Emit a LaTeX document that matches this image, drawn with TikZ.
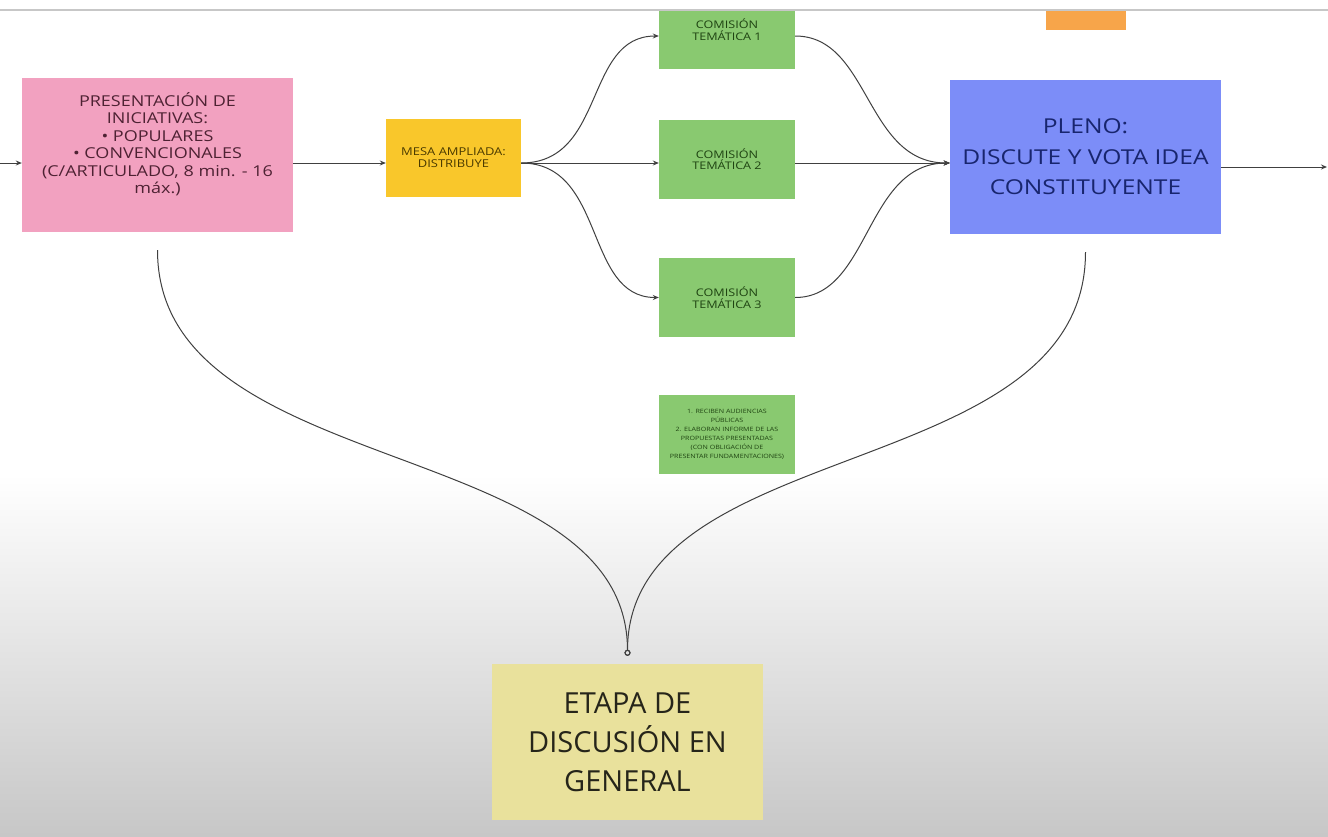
\documentclass[tikz,border=0pt]{standalone}
\usepackage{fontspec}
\setmainfont{Open Sans}
\newfontfamily\ancha{Open Sans}[FakeStretch=1.2]
\usetikzlibrary{arrows.meta}

\colorlet{pizarra linea}{black!22}
\definecolor{propuesta color}{HTML}{F2A1C0}
\definecolor{propuesta texto}{HTML}{4E2233}
\definecolor{mesa color}{HTML}{F9C72B}
\definecolor{mesa texto}{HTML}{4A3A00}
\definecolor{comision color}{HTML}{89C970}
\definecolor{comision texto}{HTML}{1F4412}
\definecolor{pleno color}{HTML}{7C8DF8}
\definecolor{pleno texto}{HTML}{18256E}
\definecolor{etapa color}{HTML}{E9E19C}
\definecolor{etapa texto}{HTML}{26251A}
\definecolor{nota color}{HTML}{F7A54A}

\tikzset{
    x={1pt},
    y={-1pt},
    caja/.style={
        fill={#1}, draw=none,
        align=center,
        inner sep=2pt,
    },
    propuesta/.style={
        caja={propuesta color},
        minimum width={271}, minimum height={154},
        font={\ancha\fontsize{15}{17.5}\selectfont\color{propuesta texto}},
    },
    mesa/.style={
        caja={mesa color},
        minimum width={135}, minimum height={78},
        font={\ancha\fontsize{10.8}{12}\selectfont\color{mesa texto}},
    },
    comision/.style={
        caja={comision color},
        minimum width={136}, minimum height={79},
        font={\ancha\fontsize{10.5}{11.5}\selectfont\color{comision texto}},
    },
    tareas/.style={
        caja={comision color},
        minimum width={136}, minimum height={79},
        font={\ancha\fontsize{5.9}{8.9}\selectfont\color{comision texto}},
    },
    pleno/.style={
        caja={pleno color},
        minimum width={271}, minimum height={154},
        font={\ancha\fontsize{20.5}{30.5}\selectfont\color{pleno texto}},
    },
    etapa/.style={
        caja={etapa color},
        minimum width={271}, minimum height={156},
        font={\fontsize{29}{39}\selectfont\color{etapa texto}},
    },
    flujo/.style={
        draw=black!75,
        line width={1pt},
        -{Stealth[length=6pt,width=5pt]},
    },
    cierre/.style={
        draw=black!75,
        line width={1pt},
        -{Circle[open,length=6pt,width=6pt]},
        shorten <={18pt},
        shorten >={8pt},
    },
}

\begin{document}
\begin{tikzpicture}
\useasboundingbox (0,0) rectangle (1328,836);
% background
\fill[white] (0,0) rectangle (1328,475);
\shade[top color=white, bottom color=black!22] (0,474) rectangle (1328,836);
\begin{scope}
\clip (0,11) rectangle (1328,836);
% boxes
\node[propuesta] (presentacion) at (157.5,155) {PRESENTACIÓN DE\\INICIATIVAS:\\• POPULARES\\• CONVENCIONALES\\(C/ARTICULADO, 8 min. - 16\\máx.)\\[6pt]};
\node[mesa] (mesa) at (453.5,158) {MESA AMPLIADA:\\DISTRIBUYE};
\node[comision] (comision1) at (727,29.5) {COMISIÓN\\TEMÁTICA 1};
\node[comision] (comision2) at (727,159) {COMISIÓN\\TEMÁTICA 2};
\node[comision] (comision3) at (727,297.5) {COMISIÓN\\TEMÁTICA 3};
\node[tareas] (tareas) at (727,434.5) {1. RECIBEN AUDIENCIAS\\PÚBLICAS\\2. ELABORAN INFORME DE LAS\\PROPUESTAS PRESENTADAS\\(CON OBLIGACIÓN DE\\PRESENTAR FUNDAMENTACIONES)};
\node[pleno] (pleno) at (1085.5,157) {PLENO:\\DISCUTE Y VOTA IDEA\\CONSTITUYENTE};
\node[caja={nota color}, minimum width={80}, minimum height={40}] (nota) at (1086,10) {};
\node[etapa] (etapa) at (627.5,742) {ETAPA DE\\DISCUSIÓN EN\\GENERAL};
\end{scope}
\draw[pizarra linea, line width={2.5pt}] (0,10) -- (1328,10);
% connectors
\coordinate (entrada) at (0,163);
\coordinate (salida) at (1327,167);
\draw[flujo] (entrada) -- (entrada -| presentacion.west);
\draw[flujo] (presentacion.east |- entrada) -- (mesa.west |- entrada);
\draw[flujo] (mesa.east |- entrada) .. controls +(85,0) and +(-75,0) .. (comision1.west |- 0,36);
\draw[flujo] (mesa.east |- entrada) -- (comision2.west |- entrada);
\draw[flujo] (mesa.east |- entrada) .. controls +(85,0) and +(-75,0) .. (comision3.west);
\draw[flujo] (comision1.east |- 0,36) .. controls +(75,0) and +(-85,0) .. (pleno.west |- entrada);
\draw[flujo] (comision2.east |- entrada) -- (pleno.west |- entrada);
\draw[flujo] (comision3.east) .. controls +(75,0) and +(-85,0) .. (pleno.west |- entrada);
\draw[flujo] (pleno.east |- salida) -- (salida);
\draw[cierre] (presentacion.south) .. controls +(0,250) and +(0,-230) .. (etapa.north);
\draw[cierre] (pleno.south) .. controls +(0,250) and +(0,-230) .. (etapa.north);
\end{tikzpicture}
\end{document}
